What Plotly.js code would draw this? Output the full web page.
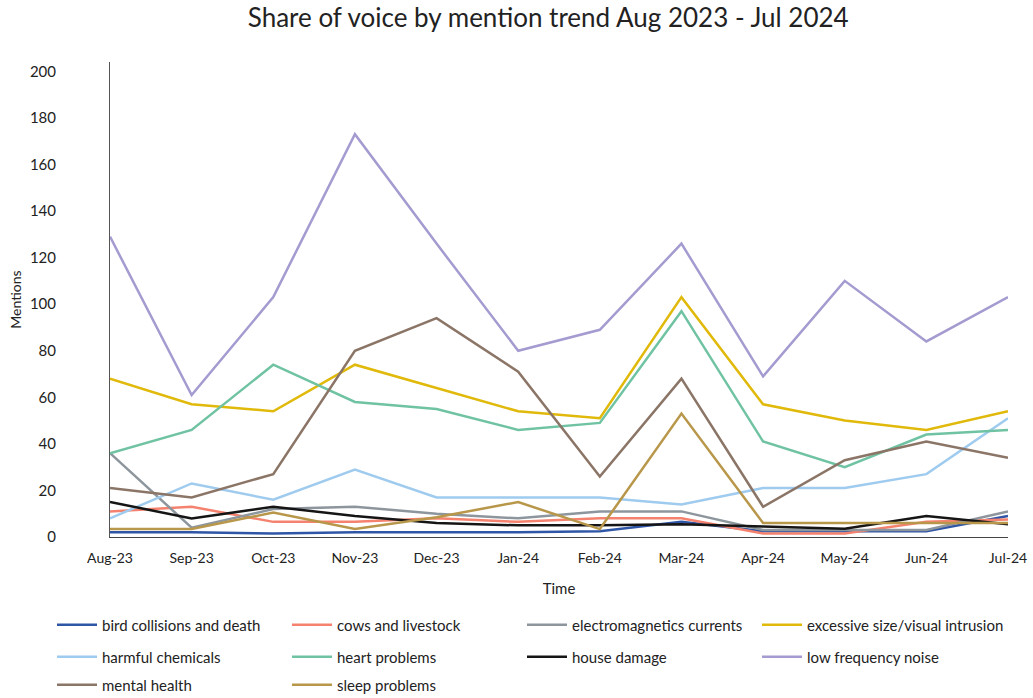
<!DOCTYPE html>
<html>
<head>
<meta charset="utf-8">
<script src="https://cdn.plot.ly/plotly-3.0.1.min.js"></script>
<style>html,body{margin:0;padding:0;background:#fff;}#chart{width:1033px;height:698px;}</style>
</head>
<body>
<div id="chart"></div>
<script>
const months = ["Aug-23","Sep-23","Oct-23","Nov-23","Dec-23","Jan-24","Feb-24","Mar-24","Apr-24","May-24","Jun-24","Jul-24"];

const birdCollisions   = [2, 2, 1.5, 2, 2, 2, 2.5, 6.5, 2.5, 2.5, 2.5, 9];
const cowsLivestock    = [11, 13, 6.5, 6.5, 8, 6.5, 8, 8, 1.5, 1.5, 6.5, 7.5];
const electromagnetics = [36, 4, 12, 13, 10, 8, 11, 11, 3, 3, 3, 11];
const excessiveSize    = [68, 57, 54, 74, 64, 54, 51, 103, 57, 50, 46, 54];
const harmfulChemicals = [8, 23, 16, 29, 17, 17, 17, 14, 21, 21, 27, 51];
const heartProblems    = [36, 46, 74, 58, 55, 46, 49, 97, 41, 30, 44, 46];
const houseDamage      = [15, 8, 13, 9, 6, 5, 5, 5.5, 4.5, 3.5, 9, 5.5];
const lowFrequencyNoise= [129, 61, 103, 173, 126, 80, 89, 126, 69, 110, 84, 103];
const mentalHealth     = [21, 17, 27, 80, 94, 71, 26, 68, 13, 33, 41, 34];
const sleepProblems    = [3.4, 3.4, 10.5, 3.4, 8.5, 15, 3.4, 53, 6, 6, 6, 6];

const seriesNames = ["bird collisions and death","cows and livestock","electromagnetics currents","excessive size/visual intrusion","harmful chemicals","heart problems","house damage","low frequency noise","mental health","sleep problems"];
const seriesData = [birdCollisions, cowsLivestock, electromagnetics, excessiveSize, harmfulChemicals, heartProblems, houseDamage, lowFrequencyNoise, mentalHealth, sleepProblems];
const colors = ["#2f56a6","#f4826e","#8e969d","#e0b90a","#9fcbef","#6fc3a2","#151515","#a59bd0","#8b7567","#b8974b"];
const legendIds = ["legend","legend","legend","legend4","legend2","legend2","legend2","legend2","legend3","legend3"];

const FONT = "Lato, 'Noto Sans', sans-serif";

const traces = seriesNames.map((n, i) => ({
  type: "scatter",
  mode: "lines",
  name: n,
  x: months,
  y: seriesData[i],
  line: {color: colors[i], width: 2.5},
  legend: legendIds[i]
}));

const legendBase = {
  orientation: "h",
  xref: "paper", yref: "paper",
  x: -58/898, xanchor: "left", yanchor: "middle",
  entrywidth: 180, entrywidthmode: "pixels",
  font: {family: FONT, size: 15, color: "#222"},
  itemwidth: 40,
  bgcolor: "rgba(0,0,0,0)"
};

const layout = {
  width: 1033, height: 698,
  paper_bgcolor: "#fff", plot_bgcolor: "#fff",
  margin: {l: 110, r: 25, t: 62, b: 161},
  font: {family: FONT, color: "#222"},
  title: {text: "Share of voice by mention trend Aug 2023 - Jul 2024", font: {family: FONT, size: 26, color: "#222"}, x: 0.488, xref: "paper", xanchor: "center", y: 0.974, yanchor: "middle"},
  xaxis: {
    type: "category",
    range: [0, 11],
    showgrid: false, zeroline: false,
    showline: true, linecolor: "#444", linewidth: 1,
    ticks: "", tickfont: {family: FONT, size: 14, color: "#222"},
    ticklabelstandoff: 8,
    title: {text: "Time", font: {family: FONT, size: 15, color: "#222"}, standoff: 18}
  },
  yaxis: {
    range: [0, 204],
    tickvals: [0,20,40,60,80,100,120,140,160,180,200],
    showgrid: false, zeroline: false,
    showline: true, linecolor: "#555", linewidth: 1,
    ticks: "", tickfont: {family: FONT, size: 15, color: "#222"},
    ticklabelstandoff: 50,
    title: {text: "Mentions", font: {family: FONT, size: 14, color: "#222"}, standoff: 4}
  },
  legend: Object.assign({}, legendBase, {y: (537-625)/475}),
  legend2: Object.assign({}, legendBase, {y: (537-657)/475}),
  legend3: Object.assign({}, legendBase, {xref: "container", yref: "container", x: 52/1033, y: (698-685)/698}),
  legend4: Object.assign({}, legendBase, {xref: "container", yref: "container", x: 757/1033, y: (698-625)/698, entrywidth: 0, entrywidthmode: "pixels"}),
  showlegend: true
};

Plotly.newPlot("chart", traces, layout, {displayModeBar: false, staticPlot: true});
</script>
</body>
</html>
